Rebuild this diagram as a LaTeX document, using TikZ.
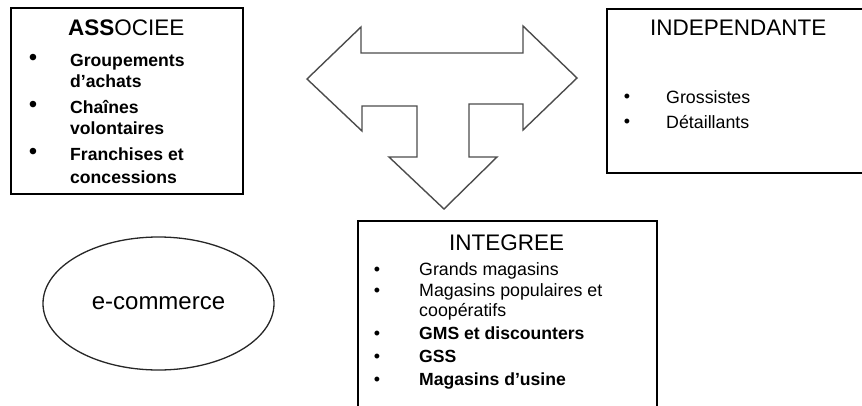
\documentclass[tikz,border=0pt]{standalone}
\usepackage{fontspec}
\setmainfont{Liberation Sans}
\usetikzlibrary{shapes.geometric}
\begin{document}
\begin{tikzpicture}[x=1pt,y=-1pt,
  box/.style={draw=black,line width=1.8pt,inner sep=0pt,anchor=north west},
  title/.style={anchor=base west,inner sep=0pt,font=\fontsize{22.5}{26}\selectfont},
  itemb/.style={anchor=base west,inner sep=0pt,font=\fontsize{17.6}{21}\selectfont\bfseries},
  itemr/.style={anchor=base west,inner sep=0pt,font=\fontsize{17.8}{21}\selectfont},
  dotb/.style={anchor=center,inner sep=0pt,font=\fontsize{24}{24}\selectfont},
  dotr/.style={anchor=center,inner sep=0pt,font=\fontsize{18}{18}\selectfont},
  arrowshape/.style={draw=black!70,line width=1.4pt,line join=miter}]
\useasboundingbox (0,0) rectangle (862,405);
\clip (0,0) rectangle (862,405);

% three-way arrow
\draw[arrowshape] (307,79) -- (361,27) -- (361,53) -- (523,53) -- (523,26)
  -- (577,78) -- (523,130) -- (523,104) -- (469,104) -- (469,157)
  -- (497,157) -- (444,209) -- (389,157) -- (417,157) -- (417,106)
  -- (362,106) -- (362,131) -- cycle;

% ASSOCIEE
\node[box,minimum width=232pt,minimum height=186pt] (assoc) at (10,7) {};
\node[title] (assocT) at (68,35) {\textbf{ASS}OCIEE};
\node[dotb] (a1d) at (33,60) {\textbullet};
\node[itemb] (a1) at (70,66) {Groupements};
\node[itemb] (a1b) at (70,87) {d’achats};
\node[dotb] (a2d) at (33,107) {\textbullet};
\node[itemb] (a2) at (70,113) {Chaînes};
\node[itemb] (a2b) at (70,134) {volontaires};
\node[dotb] (a3d) at (33,154) {\textbullet};
\node[itemb] (a3) at (70,160) {Franchises et};
\node[itemb] (a3b) at (70,183) {concessions};

% INDEPENDANTE
\node[box,minimum width=280pt,minimum height=164pt] (indep) at (606,8) {};
\node[title] (indepT) at (650,35) {INDEPENDANTE};
\node[dotr] (i1d) at (627,98.5) {\textbullet};
\node[itemr] (i1) at (666,103) {Grossistes};
\node[dotr] (i2d) at (627,123.5) {\textbullet};
\node[itemr] (i2) at (666,128) {Détaillants};

% INTEGREE
\node[box,minimum width=299pt,minimum height=200pt] (integ) at (357,220) {};
\node[title] (integT) at (449,250) {INTEGREE};
\node[dotr] (g1d) at (377,271.5) {\textbullet};
\node[itemr] (g1) at (419,275) {Grands magasins};
\node[dotr] (g2d) at (377,292.5) {\textbullet};
\node[itemr] (g2) at (419,296) {Magasins populaires et};
\node[itemr] (g2b) at (419,316) {coopératifs};
\node[dotr] (g3d) at (377,335.5) {\textbullet};
\node[itemb] (g3) at (419,339) {GMS et discounters};
\node[dotr] (g4d) at (377,358.5) {\textbullet};
\node[itemb] (g4) at (419,362) {GSS};
\node[dotr] (g5d) at (377,381.5) {\textbullet};
\node[itemb] (g5) at (419,385) {Magasins d’usine};

% e-commerce
\node[draw=black!85,line width=1.3pt,ellipse,minimum width=231pt,minimum height=133pt,inner sep=0pt,
  font=\fontsize{24}{28}\selectfont] (ecom) at (158.5,303.5) {e-commerce};
\end{tikzpicture}
\end{document}
